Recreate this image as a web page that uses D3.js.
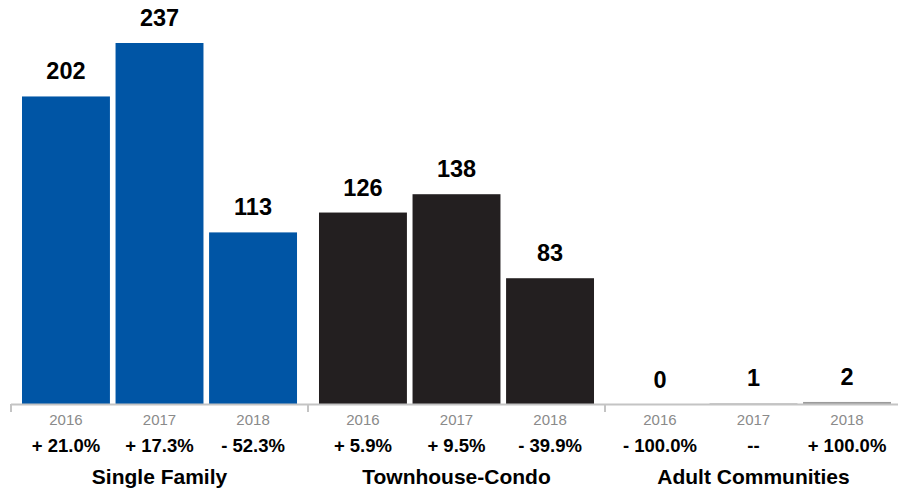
<!DOCTYPE html>
<html>
<head>
<meta charset="utf-8">
<script src="https://cdn.jsdelivr.net/npm/d3@7"></script>
<style>
  html, body { margin: 0; padding: 0; background: #fff; }
  svg { display: block; font-family: "Liberation Sans", Arial, Helvetica, sans-serif; }
</style>
</head>
<body>
<svg id="chart" width="898" height="489"></svg>
<script>
// Closed sales by property type, three years per type
const categories = ["Single Family", "Townhouse-Condo", "Adult Communities"];
const years = ["2016", "2017", "2018"];
const singleFamily = [202, 237, 113];
const townhouseCondo = [126, 138, 83];
const adultCommunities = [0, 1, 2];
const singleFamilyChange = ["+ 21.0%", "+ 17.3%", "- 52.3%"];
const townhouseCondoChange = ["+ 5.9%", "+ 9.5%", "- 39.9%"];
const adultCommunitiesChange = ["- 100.0%", "--", "+ 100.0%"];
const colors = ["#0055a5", "#231f20", "#9b9b9b"];

const groups = categories.map((name, i) => ({
  name,
  color: colors[i],
  values: [singleFamily, townhouseCondo, adultCommunities][i],
  changes: [singleFamilyChange, townhouseCondoChange, adultCommunitiesChange][i]
}));

const svg = d3.select("#chart");
const baseY = 405;

const x0 = d3.scaleBand().domain(categories).range([22, 891]).paddingInner(0.074).paddingOuter(0);
const x1 = d3.scaleBand().domain(years).range([0, x0.bandwidth()]).paddingInner(0.06).paddingOuter(0);
const y = d3.scaleLinear().domain([0, 237]).range([baseY, 43]);

const g = svg.selectAll("g.group").data(groups).join("g")
  .attr("class", "group")
  .attr("transform", d => `translate(${x0(d.name)},0)`);

g.selectAll("rect").data(d => d.values.map((v, i) => ({ v, year: years[i], color: d.color })))
  .join("rect")
  .attr("x", d => x1(d.year))
  .attr("width", x1.bandwidth())
  .attr("y", d => y(d.v))
  .attr("height", d => baseY - y(d.v))
  .attr("fill", d => d.color);

// Baseline and group separators, drawn over the bar feet
const gap = x0.step() - x0.bandwidth();
svg.append("line")
  .attr("x1", x0(categories[0]) - gap / 2).attr("x2", 898)
  .attr("y1", baseY - 0.5).attr("y2", baseY - 0.5)
  .attr("stroke", "#c4c4c4").attr("stroke-width", 2);
categories.forEach(c => {
  const tx = Math.round(x0(c) - gap / 2);
  svg.append("line")
    .attr("x1", tx).attr("x2", tx)
    .attr("y1", baseY - 1).attr("y2", baseY + 7)
    .attr("stroke", "#c4c4c4").attr("stroke-width", 2);
});

// Value labels above bars
g.selectAll("text.value").data(d => d.values.map((v, i) => ({ v, year: years[i] })))
  .join("text")
  .attr("class", "value")
  .attr("x", d => x1(d.year) + x1.bandwidth() / 2)
  .attr("y", d => y(d.v) - 17)
  .attr("text-anchor", "middle")
  .attr("font-size", 23.5).attr("font-weight", "bold").attr("fill", "#000")
  .text(d => d.v);

// Year labels
g.selectAll("text.year").data(years)
  .join("text")
  .attr("class", "year")
  .attr("x", d => x1(d) + x1.bandwidth() / 2)
  .attr("y", 425)
  .attr("text-anchor", "middle")
  .attr("font-size", 15).attr("fill", "#8a8a8a")
  .text(d => d);

// Year-over-year change
g.selectAll("text.change").data(d => d.changes.map((t, i) => ({ t, year: years[i] })))
  .join("text")
  .attr("class", "change")
  .attr("x", d => x1(d.year) + x1.bandwidth() / 2)
  .attr("y", 452)
  .attr("text-anchor", "middle")
  .attr("font-size", 18.5).attr("font-weight", "bold").attr("fill", "#000")
  .text(d => d.t);

// Category names
g.append("text")
  .attr("x", x0.bandwidth() / 2)
  .attr("y", 484)
  .attr("text-anchor", "middle")
  .attr("font-size", 21).attr("font-weight", "bold").attr("fill", "#000")
  .text(d => d.name);
</script>
</body>
</html>
